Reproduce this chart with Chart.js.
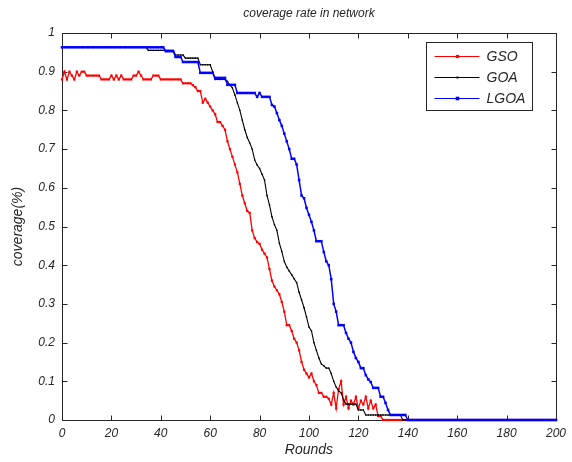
<!DOCTYPE html>
<html>
<head>
<meta charset="utf-8">
<script src="https://cdn.jsdelivr.net/npm/chart.js@4.4.1/dist/chart.umd.min.js"></script>
<style>
  html, body { margin: 0; padding: 0; background: #ffffff; }
  #wrap { width: 572px; height: 462px; }
</style>
</head>
<body>
<div id="wrap"><canvas id="c" width="572" height="462"></canvas></div>
<script>
// Coverage per round (rounds 0..200), one value per round.
const gso = [
  0.88,0.90,0.88,0.90,0.89,0.88,0.90,0.89,0.90,0.90,
  0.89,0.89,0.89,0.89,0.89,0.89,0.88,0.88,0.88,0.88,
  0.89,0.88,0.89,0.88,0.89,0.88,0.88,0.88,0.88,0.89,
  0.89,0.90,0.89,0.88,0.88,0.88,0.88,0.89,0.89,0.89,
  0.88,0.88,0.88,0.88,0.88,0.88,0.88,0.88,0.88,0.87,
  0.87,0.87,0.87,0.865,0.86,0.85,0.85,0.82,0.83,0.82,
  0.81,0.80,0.79,0.77,0.77,0.76,0.75,0.72,0.70,0.68,
  0.66,0.64,0.61,0.58,0.56,0.54,0.535,0.49,0.47,0.46,
  0.455,0.44,0.43,0.42,0.39,0.36,0.345,0.335,0.325,0.305,
  0.28,0.245,0.245,0.23,0.21,0.20,0.18,0.15,0.13,0.12,
  0.11,0.12,0.10,0.09,0.07,0.07,0.06,0.06,0.055,0.04,
  0.07,0.03,0.08,0.10,0.04,0.06,0.03,0.05,0.04,0.06,
  0.03,0.05,0.04,0.06,0.03,0.05,0.03,0.04,0.01,0.01,
  0,0,0,0,0,0,0,0,0,0,
  0,0,0,0,0,0,0,0,0,0,
  0,0,0,0,0,0,0,0,0,0,
  0,0,0,0,0,0,0,0,0,0,
  0,0,0,0,0,0,0,0,0,0,
  0,0,0,0,0,0,0,0,0,0,
  0,0,0,0,0,0,0,0,0,0,
  0
];

const goa = [
  0.963,0.963,0.963,0.963,0.963,0.963,0.963,0.963,0.963,0.963,
  0.963,0.963,0.963,0.963,0.963,0.963,0.963,0.963,0.963,0.963,
  0.963,0.963,0.963,0.963,0.963,0.963,0.963,0.963,0.963,0.963,
  0.963,0.963,0.963,0.963,0.963,0.955,0.955,0.955,0.955,0.955,
  0.955,0.955,0.955,0.955,0.955,0.955,0.943,0.943,0.943,0.943,
  0.935,0.935,0.935,0.935,0.935,0.935,0.918,0.918,0.918,0.918,
  0.918,0.90,0.88,0.88,0.88,0.88,0.88,0.875,0.865,0.858,
  0.84,0.82,0.80,0.775,0.75,0.73,0.716,0.70,0.672,0.659,
  0.65,0.635,0.62,0.58,0.556,0.525,0.505,0.49,0.457,0.435,
  0.41,0.395,0.385,0.375,0.365,0.355,0.33,0.31,0.29,0.266,
  0.24,0.23,0.20,0.18,0.16,0.145,0.14,0.134,0.134,0.12,
  0.10,0.085,0.075,0.07,0.052,0.041,0.041,0.041,0.041,0.041,
  0.026,0.026,0.026,0.013,0.013,0.013,0.013,0.013,0.013,0.013,
  0.013,0.013,0.013,0.013,0.013,0.013,0.013,0.013,0,0,
  0,0,0,0,0,0,0,0,0,0,
  0,0,0,0,0,0,0,0,0,0,
  0,0,0,0,0,0,0,0,0,0,
  0,0,0,0,0,0,0,0,0,0,
  0,0,0,0,0,0,0,0,0,0,
  0,0,0,0,0,0,0,0,0,0,
  0
];

const lgoa = [
  0.963,0.963,0.963,0.963,0.963,0.963,0.963,0.963,0.963,0.963,
  0.963,0.963,0.963,0.963,0.963,0.963,0.963,0.963,0.963,0.963,
  0.963,0.963,0.963,0.963,0.963,0.963,0.963,0.963,0.963,0.963,
  0.963,0.963,0.963,0.963,0.963,0.963,0.963,0.963,0.963,0.963,
  0.963,0.963,0.953,0.953,0.953,0.953,0.938,0.938,0.938,0.925,
  0.925,0.925,0.925,0.925,0.925,0.925,0.897,0.897,0.897,0.897,
  0.897,0.897,0.884,0.884,0.884,0.884,0.884,0.866,0.866,0.866,
  0.866,0.845,0.845,0.845,0.845,0.845,0.845,0.845,0.845,0.835,
  0.845,0.835,0.835,0.835,0.835,0.814,0.81,0.793,0.775,0.76,
  0.74,0.72,0.70,0.675,0.675,0.66,0.62,0.58,0.573,0.548,
  0.53,0.512,0.49,0.462,0.462,0.462,0.434,0.41,0.40,0.364,
  0.30,0.28,0.245,0.245,0.245,0.225,0.21,0.20,0.176,0.16,
  0.15,0.134,0.134,0.116,0.105,0.098,0.083,0.083,0.083,0.06,
  0.06,0.044,0.026,0.013,0.013,0.013,0.013,0.013,0.013,0.013,
  0,0,0,0,0,0,0,0,0,0,
  0,0,0,0,0,0,0,0,0,0,
  0,0,0,0,0,0,0,0,0,0,
  0,0,0,0,0,0,0,0,0,0,
  0,0,0,0,0,0,0,0,0,0,
  0,0,0,0,0,0,0,0,0,0,
  0
];

const seriesNames = ['GSO', 'GOA', 'LGOA'];
const xTickLabels = ['0','20','40','60','80','100','120','140','160','180','200'];
const yTickLabels = ['0','0.1','0.2','0.3','0.4','0.5','0.6','0.7','0.8','0.9','1'];
const chartTitle = 'coverage rate in network';
const xTitle = 'Rounds';
const yTitle = 'coverage(%)';

// round number is the index of each value
const rounds = gso.map((_, i) => i);

const FONT = "'Liberation Sans', Arial, Helvetica, sans-serif";
const INK = '#262626';

// Axes box with inward tick marks on all four sides
const boxPlugin = {
  id: 'axesBox',
  beforeDatasetsDraw(chart) {
    const { ctx, chartArea: a, scales } = chart;
    ctx.save();
    ctx.strokeStyle = INK;
    ctx.lineWidth = 1;
    ctx.beginPath();
    const L = Math.round(a.left) + 0.5, R = Math.round(a.right) + 0.5;
    const T = Math.round(a.top) + 0.5, B = Math.round(a.bottom) + 0.5;
    ctx.rect(L, T, R - L, B - T);
    const len = 5;
    scales.x.ticks.forEach(t => {
      const px = Math.round(scales.x.getPixelForValue(t.value)) + 0.5;
      ctx.moveTo(px, B); ctx.lineTo(px, B - len);
      ctx.moveTo(px, T); ctx.lineTo(px, T + len);
    });
    scales.y.ticks.forEach(t => {
      const py = Math.round(scales.y.getPixelForValue(t.value)) + 0.5;
      ctx.moveTo(L, py); ctx.lineTo(L + len, py);
      ctx.moveTo(R, py); ctx.lineTo(R - len, py);
    });
    ctx.stroke();
    ctx.restore();
  },
  afterDraw(chart) {
    const { ctx, chartArea: a } = chart;
    ctx.save();
    // title centred over the plot box
    ctx.fillStyle = INK;
    ctx.font = 'italic 12px ' + FONT;
    ctx.textAlign = 'center';
    ctx.textBaseline = 'middle';
    ctx.fillText(chartTitle, (a.left + a.right) / 2, 14);

    // legend box in the upper right corner
    const w = 106, h = 68;
    const bx = Math.round(a.right - 24) - w + 0.5;
    const by = Math.round(a.top + 9) + 0.5;
    ctx.fillStyle = '#ffffff';
    ctx.fillRect(bx, by, w, h);
    ctx.strokeStyle = INK;
    ctx.lineWidth = 1;
    ctx.strokeRect(bx, by, w, h);
    const rows = [13, 34, 55];
    chart.data.datasets.forEach((ds, i) => {
      const y = Math.round(by + rows[i]) + 0.5;
      ctx.strokeStyle = ds.borderColor;
      ctx.lineWidth = 1;
      ctx.beginPath();
      ctx.moveTo(bx + 8, y); ctx.lineTo(bx + 53, y);
      ctx.stroke();
      ctx.fillStyle = ds.borderColor;
      const r = ds.pointRadius;
      ctx.fillRect(bx + 31 - r, y - r, 2 * r, 2 * r);
      ctx.fillStyle = INK;
      ctx.font = 'italic 14px ' + FONT;
      ctx.textAlign = 'left';
      ctx.textBaseline = 'middle';
      ctx.fillText(ds.label, bx + 60, y + 1);
    });
    ctx.restore();
  }
};

const makeSet = (label, values, color, bw, pr, order) => ({
  label,
  data: values.map((v, i) => ({ x: rounds[i], y: v })),
  borderColor: color,
  backgroundColor: color,
  borderWidth: bw,
  pointStyle: 'rect',
  pointRadius: pr,
  pointBorderWidth: 0,
  pointHoverRadius: pr,
  tension: 0,
  fill: false,
  clip: false,
  order
});

new Chart(document.getElementById('c'), {
  type: 'line',
  data: {
    datasets: [
      makeSet(seriesNames[0], gso, '#ff0000', 1.3, 1.6, 2),
      makeSet(seriesNames[1], goa, '#000000', 1.1, 1.0, 1),
      makeSet(seriesNames[2], lgoa, '#0000ff', 1.5, 1.8, 0)
    ]
  },
  options: {
    responsive: false,
    animation: false,
    events: [],
    layout: { padding: { left: 0, right: 15, top: 33, bottom: 0 } },
    plugins: {
      legend: { display: false },
      title: { display: false },
      tooltip: { enabled: false }
    },
    scales: {
      x: {
        type: 'linear',
        min: 0, max: 200,
        afterFit(s) { s.height = 42; },
        afterBuildTicks(s) { s.ticks = xTickLabels.map(t => ({ value: Number(t) })); },
        grid: { display: false, drawTicks: false },
        border: { display: false },
        ticks: {
          padding: 6,
          color: INK,
          maxRotation: 0,
          autoSkip: false,
          font: { family: FONT, size: 12, style: 'italic' },
          callback: (v) => xTickLabels[xTickLabels.indexOf(String(v))] ?? ''
        },
        title: {
          display: true, text: xTitle, color: INK,
          padding: { top: 0, bottom: 3 },
          font: { family: FONT, size: 14, style: 'italic' }
        }
      },
      y: {
        type: 'linear',
        min: 0, max: 1,
        afterFit(s) { s.width = 62; },
        afterBuildTicks(s) { s.ticks = yTickLabels.map(t => ({ value: Number(t) })); },
        grid: { display: false, drawTicks: false },
        border: { display: false },
        ticks: {
          padding: 7,
          color: INK,
          autoSkip: false,
          font: { family: FONT, size: 12, style: 'italic' },
          callback: (v) => yTickLabels.find(t => Number(t) === v) ?? ''
        },
        title: {
          display: true, text: yTitle, color: INK,
          padding: { top: 10, bottom: 0 },
          font: { family: FONT, size: 14, style: 'italic' }
        }
      }
    }
  },
  plugins: [boxPlugin]
});
</script>
</body>
</html>
